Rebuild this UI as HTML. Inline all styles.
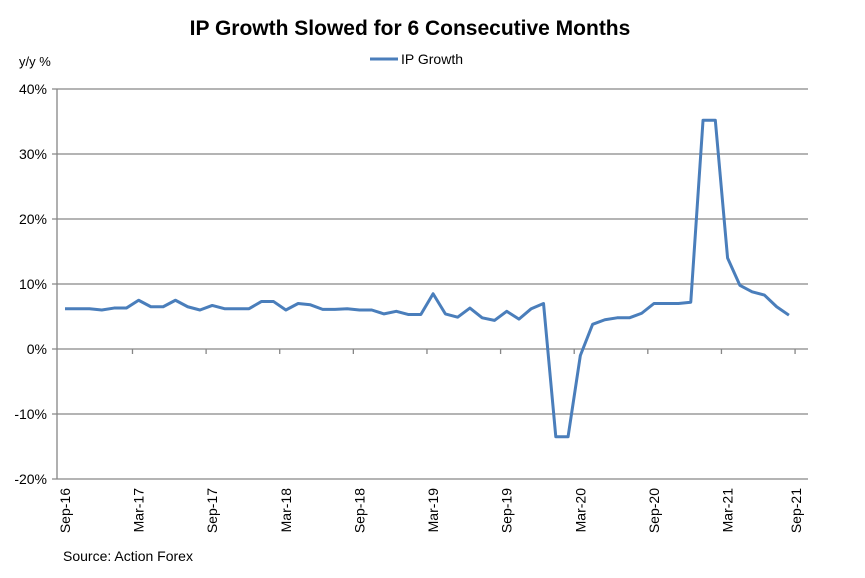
<!DOCTYPE html>
<html><head><meta charset="utf-8"><style>
body{margin:0;background:#fff;font-family:"Liberation Sans",Arial,sans-serif}
</style></head><body>
<svg id="chart" width="865" height="573" xmlns="http://www.w3.org/2000/svg" font-family="Liberation Sans, Arial, sans-serif">
<text x="410" y="35" text-anchor="middle" font-size="21" font-weight="bold">IP Growth Slowed for 6 Consecutive Months</text>
<text x="19" y="66" font-size="13">y/y %</text>
<g>
<line x1="370" y1="59" x2="398" y2="59" stroke="#4a7ebb" stroke-width="3"/>
<text x="401" y="64" font-size="14">IP Growth</text>
</g>
<g id="grid"></g><g id="axes"></g><g id="series"></g>
<text x="63" y="561" font-size="14">Source: Action Forex</text>
</svg>
<script>
const values=[6.2,6.2,6.2,6.0,6.3,6.3,7.5,6.5,6.5,7.5,6.5,6.0,6.7,6.2,6.2,6.2,7.3,7.3,6.0,7.0,6.8,6.1,6.1,6.2,6.0,6.0,5.4,5.8,5.3,5.3,8.5,5.4,4.9,6.3,4.8,4.4,5.8,4.6,6.2,7.0,-13.5,-13.5,-1.0,3.8,4.5,4.8,4.8,5.5,7.0,7.0,7.0,7.2,35.2,35.2,14.0,9.8,8.8,8.3,6.5,5.2];
const xLabels=["Sep-16","Mar-17","Sep-17","Mar-18","Sep-18","Mar-19","Sep-19","Mar-20","Sep-20","Mar-21","Sep-21"];
const yTicks=[-20,-10,0,10,20,30,40];
const NS="http://www.w3.org/2000/svg";
const L=57,R=808,T=89,B=479,x0=65,dx=12.27;
const x=i=>x0+i*dx;
const y=v=>349-v*6.5;
function mk(tag,at,parent){const e=document.createElementNS(NS,tag);for(const k in at)e.setAttribute(k,at[k]);document.getElementById(parent).appendChild(e);return e;}
yTicks.forEach(t=>{
 const g=mk('line',{x1:L-5,x2:R,y1:y(t),y2:y(t),stroke:'#868686','stroke-width':1.3},'grid');
 
 
 const tx=mk('text',{x:47,y:y(t)+5,'text-anchor':'end','font-size':14},'axes');
 tx.textContent=t+'%';
 
 
});
const ya=mk('line',{x1:L,x2:L,y1:T,y2:B,stroke:'#868686','stroke-width':1.3},'axes');


xLabels.forEach((s,k)=>{
 const i=k*6;
 const tk=mk('line',{x1:x(i+5.5),x2:x(i+5.5),y1:y(0),y2:y(0)+5,stroke:'#868686','stroke-width':1.3},'axes');
 
 
 const cx=Math.min(x(i),796)+5;
 const tx=mk('text',{x:0,y:0,'text-anchor':'end','font-size':14,transform:`translate(${cx},488) rotate(-90)`},'axes');
 tx.textContent=s;
 
 
});
const p=mk('polyline',{points:values.map((v,i)=>x(i)+','+y(v)).join(' '),fill:'none',stroke:'#4a7ebb','stroke-width':3,'stroke-linejoin':'round'},'series');


</script>
</body></html>
